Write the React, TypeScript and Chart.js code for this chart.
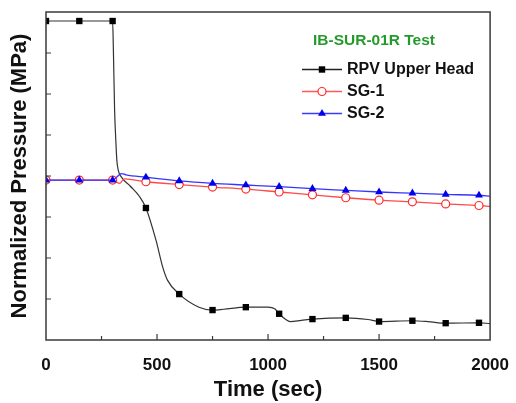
import { useEffect, useRef } from 'react';
import { Chart, registerables } from 'chart.js';

Chart.register(...registerables);

// ---- data ----
const xTickValues = [0, 500, 1000, 1500, 2000];
const legendTitle = 'IB-SUR-01R Test';
const seriesNames = ['RPV Upper Head', 'SG-1', 'SG-2'];

const rpvTime = [0, 150, 300, 303, 309, 315, 319, 325, 339, 380, 421, 450, 495, 525, 547, 600, 689, 750, 800, 900, 1000, 1030, 1050, 1080, 1100, 1150, 1200, 1350, 1450, 1500, 1650, 1720, 1800, 1950, 2000];
const rpvValue = [7.78, 7.78, 7.78, 7.2, 5.6, 4.8, 4.39, 4.15, 3.98, 3.75, 3.5, 3.22, 2.44, 1.79, 1.46, 1.12, 0.8, 0.73, 0.75, 0.8, 0.8, 0.76, 0.64, 0.5, 0.45, 0.48, 0.51, 0.54, 0.5, 0.45, 0.47, 0.45, 0.41, 0.42, 0.4];

const sg1Time = [0, 150, 300, 315, 331, 353, 400, 450, 600, 750, 900, 1050, 1200, 1350, 1500, 1650, 1800, 1950, 2000];
const sg1Value = [3.9, 3.9, 3.9, 3.86, 3.82, 3.93, 3.9, 3.86, 3.79, 3.73, 3.68, 3.61, 3.54, 3.47, 3.41, 3.37, 3.32, 3.28, 3.26];

const sg2Time = [0, 150, 300, 320, 339, 360, 450, 600, 750, 900, 1050, 1200, 1350, 1500, 1650, 1800, 1950, 2000];
const sg2Value = [3.9, 3.9, 3.9, 3.98, 4.06, 4.03, 3.97, 3.88, 3.82, 3.78, 3.74, 3.69, 3.65, 3.61, 3.58, 3.55, 3.53, 3.51];

const markerEvery = 150;

const FONT = '"Liberation Sans", Arial, Helvetica, sans-serif';

function drawMarker(ctx: CanvasRenderingContext2D, kind: string, x: number, y: number) {
  ctx.save();
  if (kind === 'rect') {
    ctx.fillStyle = '#000';
    ctx.fillRect(x - 3.2, y - 3.2, 6.4, 6.4);
  } else if (kind === 'circle') {
    ctx.beginPath();
    ctx.arc(x, y, 4, 0, Math.PI * 2);
    ctx.fillStyle = '#fff';
    ctx.fill();
    ctx.lineWidth = 1.2;
    ctx.strokeStyle = '#ff2a2a';
    ctx.stroke();
  } else {
    const r = 4.6;
    ctx.beginPath();
    ctx.moveTo(x, y - r);
    ctx.lineTo(x + r * Math.sin((2 * Math.PI) / 3), y - r * Math.cos((2 * Math.PI) / 3));
    ctx.lineTo(x + r * Math.sin((4 * Math.PI) / 3), y - r * Math.cos((4 * Math.PI) / 3));
    ctx.closePath();
    ctx.fillStyle = '#0000ee';
    ctx.fill();
  }
  ctx.restore();
}

export default function App() {
  const ref = useRef<HTMLCanvasElement>(null);

  useEffect(() => {
    document.body.style.margin = '0';
    const canvas = ref.current;
    if (!canvas) return;

    const pts = (t: number[], v: number[]) => t.map((x, i) => ({ x, y: v[i] }));
    const radius = (r: number) => (c: any) => (c.raw && c.raw.x % markerEvery === 0 ? r : 0);

    const framePlugin = {
      id: 'frame',
      afterDatasetsDraw(chart: any) {
        const { ctx, chartArea } = chart;
        const xs = chart.scales.x;
        const ys = chart.scales.y;
        ctx.save();
        ctx.strokeStyle = '#3a3a3a';
        ctx.lineWidth = 1.5;
        ctx.strokeRect(chartArea.left, chartArea.top, chartArea.right - chartArea.left, chartArea.bottom - chartArea.top);
        ctx.lineWidth = 1.2;
        ctx.beginPath();
        for (let v = 250; v < 2000; v += 250) {
          const px = xs.getPixelForValue(v);
          const len = v % 500 === 0 ? 6 : 4;
          ctx.moveTo(px, chartArea.bottom);
          ctx.lineTo(px, chartArea.bottom - len);
        }
        for (let v = 1; v < 8; v += 1) {
          const py = ys.getPixelForValue(v);
          ctx.moveTo(chartArea.left, py);
          ctx.lineTo(chartArea.left + 5, py);
        }
        ctx.stroke();
        ctx.restore();
      },
    };

    const legendPlugin = {
      id: 'insideLegend',
      afterDatasetsDraw(chart: any) {
        const { ctx } = chart;
        ctx.save();
        ctx.textBaseline = 'middle';
        ctx.textAlign = 'center';
        ctx.fillStyle = '#249a2c';
        ctx.font = `bold 15.5px ${FONT}`;
        ctx.fillText(legendTitle, 374, 41);
        const rows = [
          { y: 69.5, color: '#222', kind: 'rect' },
          { y: 91.5, color: '#ff5a5a', kind: 'circle' },
          { y: 113.5, color: '#3a3aff', kind: 'triangle' },
        ];
        rows.forEach((r, i) => {
          ctx.strokeStyle = r.color;
          ctx.lineWidth = 1.3;
          ctx.beginPath();
          ctx.moveTo(302, r.y);
          ctx.lineTo(342, r.y);
          ctx.stroke();
          drawMarker(ctx, r.kind, 322, r.y);
          ctx.fillStyle = '#111';
          ctx.textAlign = 'left';
          ctx.font = `bold 16px ${FONT}`;
          ctx.fillText(seriesNames[i], 347, r.y + 0.5);
        });
        ctx.restore();
      },
    };

    const chart = new Chart(canvas, {
      type: 'line',
      data: {
        datasets: [
          {
            label: seriesNames[0],
            data: pts(rpvTime, rpvValue),
            borderColor: '#333',
            borderWidth: 1.2,
            backgroundColor: '#000',
            pointBackgroundColor: '#000',
            pointBorderColor: '#000',
            pointBorderWidth: 0,
            pointStyle: 'rect',
            pointRadius: radius(4.5),
            cubicInterpolationMode: 'monotone',
            order: 3,
          },
          {
            label: seriesNames[1],
            data: pts(sg1Time, sg1Value),
            borderColor: '#ff4a4a',
            borderWidth: 1.3,
            pointBackgroundColor: '#fff',
            pointBorderColor: '#ff2a2a',
            pointBorderWidth: 1.2,
            pointStyle: 'circle',
            pointRadius: radius(4),
            cubicInterpolationMode: 'monotone',
            order: 2,
          },
          {
            label: seriesNames[2],
            data: pts(sg2Time, sg2Value),
            borderColor: '#3535ff',
            borderWidth: 1.3,
            pointBackgroundColor: '#0000ee',
            pointBorderColor: '#0000ee',
            pointBorderWidth: 0,
            pointStyle: 'triangle',
            pointRadius: radius(4.6),
            cubicInterpolationMode: 'monotone',
            order: 1,
          },
        ],
      },
      options: {
        responsive: false,
        animation: false,
        events: [],
        layout: { padding: { top: 12, right: 23, left: 0, bottom: 0 } },
        plugins: { legend: { display: false }, tooltip: { enabled: false } },
        scales: {
          x: {
            type: 'linear',
            min: 0,
            max: 2000,
            afterBuildTicks(s: any) {
              s.ticks = xTickValues.map((v) => ({ value: v }));
            },
            ticks: {
              font: { family: FONT, size: 17, weight: 'bold' },
              color: '#111',
              padding: 7,
              maxRotation: 0,
              callback: (v: any) => String(v),
            },
            grid: { display: false },
            border: { display: false },
            title: {
              display: true,
              text: 'Time (sec)',
              color: '#111',
              font: { family: FONT, size: 22, weight: 'bold' },
              padding: { top: 0, bottom: 0 },
            },
            afterFit(s: any) {
              s.height = 63;
            },
          },
          y: {
            type: 'linear',
            min: 0,
            max: 8,
            ticks: { display: false, stepSize: 1 },
            grid: { display: false },
            border: { display: false },
            title: {
              display: true,
              text: 'Normalized Pressure (MPa)',
              color: '#111',
              font: { family: FONT, size: 22, weight: 'bold' },
              padding: { top: 7, bottom: 0 },
            },
            afterFit(s: any) {
              s.width = 46;
            },
          },
        },
      } as any,
      plugins: [framePlugin, legendPlugin],
    });

    return () => chart.destroy();
  }, []);

  return (
    <div style={{ width: 516, height: 403 }}>
      <canvas ref={ref} width={516} height={403} style={{ display: 'block' }} />
    </div>
  );
}
